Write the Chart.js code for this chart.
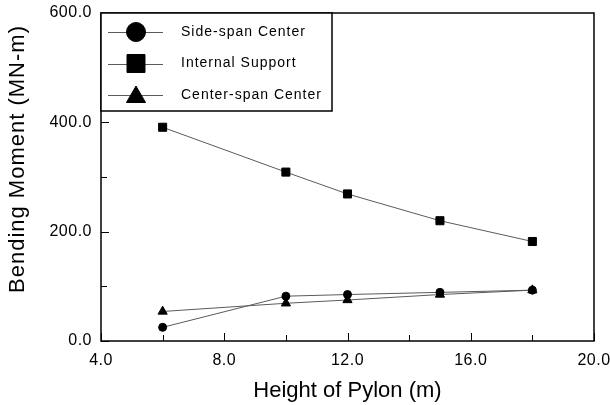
<!DOCTYPE html>
<html>
<head>
<meta charset="utf-8">
<script src="https://cdn.jsdelivr.net/npm/chart.js@4.4.1/dist/chart.umd.min.js"></script>
<style>
  html, body { margin: 0; padding: 0; background: #fff; }
  #wrap { width: 610px; height: 405px; }
</style>
</head>
<body>
<div id="wrap"><canvas id="chart"></canvas></div>
<script>
// pylon heights (m)
const heights = [6, 10, 12, 15, 18];

// bending moments (MN-m)
const sideSpanCenter = [25, 82, 85, 89, 93];
const internalSupport = [391, 309, 269, 220, 182];
const centerSpanCenter = [54, 69, 75, 85, 93];

const seriesNames = ['Side-span Center', 'Internal Support', 'Center-span Center'];
const xMinorTicks = [6, 10, 14, 18];
const yMinorTicks = [100, 300, 500];
const xTitle = 'Height of Pylon (m)';
const yTitle = 'Bending Moment (MN-m)';

const FONT = '"Liberation Sans", Arial, sans-serif';

function toPoints(values) {
    return heights.map((h, i) => ({ x: h, y: values[i] }));
}

function makeSeries(label, values, style, radius, legendRadius) {
    return {
        label: label,
        data: toPoints(values),
        borderColor: '#5a5a5a',
        borderWidth: 1,
        backgroundColor: '#000',
        pointStyle: style,
        pointRadius: radius,
        pointBorderColor: '#000',
        pointBackgroundColor: '#000',
        pointBorderWidth: 1,
        legendRadius: legendRadius,
        tension: 0
    };
}

// the reference tick labels are a bit spread out
const spacingPlugin = {
    id: 'spacing',
    beforeDraw(chart) { chart.ctx.letterSpacing = '0.5px'; }
};

// frame, inward ticks, axis titles and the boxed legend
const framePlugin = {
    id: 'frame',
    afterDraw(chart) {
        const ctx = chart.ctx;
        const a = chart.chartArea;
        const xs = chart.scales.x;
        const ys = chart.scales.y;
        ctx.save();
        ctx.strokeStyle = '#000';
        ctx.lineWidth = 1.5;
        ctx.strokeRect(a.left, a.top, a.right - a.left, a.bottom - a.top);

        ctx.lineWidth = 1;
        ctx.beginPath();
        xs.ticks.forEach(t => {
            const px = Math.round(xs.getPixelForValue(t.value)) + 0.5;
            ctx.moveTo(px, a.bottom);
            ctx.lineTo(px, a.bottom - 8);
        });
        xMinorTicks.forEach(v => {
            const px = Math.round(xs.getPixelForValue(v)) + 0.5;
            ctx.moveTo(px, a.bottom);
            ctx.lineTo(px, a.bottom - 6);
        });
        ys.ticks.forEach(t => {
            const py = Math.round(ys.getPixelForValue(t.value)) + 0.5;
            ctx.moveTo(a.left, py);
            ctx.lineTo(a.left + 8, py);
        });
        yMinorTicks.forEach(v => {
            const py = Math.round(ys.getPixelForValue(v)) + 0.5;
            ctx.moveTo(a.left, py);
            ctx.lineTo(a.left + 6, py);
        });
        ctx.stroke();

        // axis titles
        ctx.fillStyle = '#000';
        ctx.font = '22px ' + FONT;
        ctx.letterSpacing = '0px';
        ctx.textAlign = 'center';
        ctx.textBaseline = 'alphabetic';
        ctx.fillText(xTitle, (a.left + a.right) / 2, 397);
        ctx.save();
        ctx.letterSpacing = '1px';
        ctx.translate(24, 159);
        ctx.rotate(-Math.PI / 2);
        ctx.fillText(yTitle, 0, 0);
        ctx.restore();

        // legend box
        const boxW = 231, boxH = 98;
        ctx.fillStyle = '#fff';
        ctx.fillRect(a.left, a.top, boxW, boxH);
        ctx.strokeStyle = '#000';
        ctx.lineWidth = 1.5;
        ctx.strokeRect(a.left, a.top, boxW, boxH);

        chart.data.datasets.forEach((ds, i) => {
            const y = a.top + 19 + i * 31.5;
            ctx.strokeStyle = '#5a5a5a';
            ctx.lineWidth = 1;
            ctx.beginPath();
            ctx.moveTo(a.left + 7, Math.round(y) + 0.5);
            ctx.lineTo(a.left + 62, Math.round(y) + 0.5);
            ctx.stroke();
            ctx.fillStyle = '#000';
            ctx.strokeStyle = '#000';
            Chart.helpers.drawPoint(ctx, {
                pointStyle: ds.pointStyle,
                radius: ds.legendRadius,
                borderWidth: 1
            }, a.left + 35, y + (ds.pointStyle === 'triangle' ? 2 : 0));
            ctx.font = '14px ' + FONT;
            ctx.letterSpacing = '1px';
            ctx.textBaseline = 'middle';
            ctx.textAlign = 'left';
            ctx.fillText(ds.label, a.left + 80, y);
        });
        ctx.restore();
    }
};

new Chart(document.getElementById('chart'), {
    type: 'line',
    data: {
        datasets: [
            makeSeries(seriesNames[0], sideSpanCenter, 'circle', 4, 9.5),
            makeSeries(seriesNames[1], internalSupport, 'rect', 5.7, 12.7),
            makeSeries(seriesNames[2], centerSpanCenter, 'triangle', 5.3, 11)
        ]
    },
    options: {
        responsive: true,
        maintainAspectRatio: false,
        animation: false,
        layout: { padding: { top: 13, right: 16, left: 49, bottom: 34 } },
        plugins: {
            legend: { display: false },
            tooltip: { enabled: false }
        },
        scales: {
            x: {
                type: 'linear',
                min: 4,
                max: 20,
                grid: { display: false, drawTicks: false },
                border: { display: false },
                ticks: {
                    stepSize: 4,
                    maxRotation: 0,
                    color: '#000',
                    padding: 10,
                    font: { family: FONT, size: 16 },
                    callback: v => v.toFixed(1)
                },
                afterFit: s => {
                    s.height = 30;
                    s.paddingLeft = 0;
                    s.paddingRight = 0;
                }
            },
            y: {
                min: 0,
                max: 600,
                grid: { display: false, drawTicks: false },
                border: { display: false },
                ticks: {
                    stepSize: 200,
                    color: '#000',
                    padding: 9,
                    font: { family: FONT, size: 16 },
                    callback: v => v.toFixed(1)
                },
                afterFit: s => {
                    s.width = 52;
                    s.paddingTop = 0;
                    s.paddingBottom = 0;
                }
            }
        }
    },
    plugins: [spacingPlugin, framePlugin]
});
</script>
</body>
</html>
